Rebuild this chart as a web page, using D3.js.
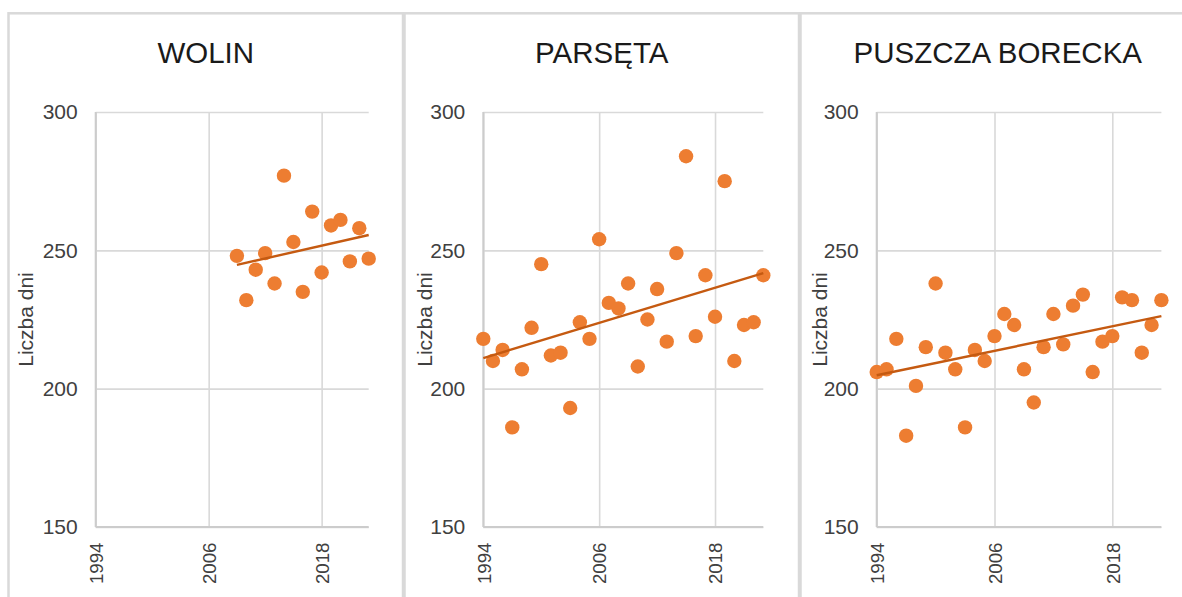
<!DOCTYPE html>
<html>
<head>
<meta charset="utf-8">
<script src="https://cdn.jsdelivr.net/npm/d3@7/dist/d3.min.js"></script>
<style>
  body { margin: 0; background: #fff; }
  svg { display: block; }
  text { font-family: "Liberation Sans", Arial, sans-serif; }
</style>
</head>
<body>
<svg id="chart" width="1182" height="597"></svg>
<script>
// ---- data ----
const titles = ["WOLIN", "PARSĘTA", "PUSZCZA BORECKA"];
const yAxisTitle = "Liczba dni";
const yearTicks = [1994, 2006, 2018];
const dayTicks = [150, 200, 250, 300];
const yearDomain = [1994, 2023];
const dayDomain = [150, 300];

const yearsFull = [1994, 1995, 1996, 1997, 1998, 1999, 2000, 2001, 2002, 2003,
                   2004, 2005, 2006, 2007, 2008, 2009, 2010, 2011, 2012, 2013,
                   2014, 2015, 2016, 2017, 2018, 2019, 2020, 2021, 2022, 2023];
const yearsWolin = [2009, 2010, 2011, 2012, 2013, 2014, 2015, 2016,
                    2017, 2018, 2019, 2020, 2021, 2022, 2023];

const wolinDays = [248, 232, 243, 249, 238, 277, 253, 235, 264, 242, 259, 261, 246, 258, 247];
const parsetaDays = [218, 210, 214, 186, 207, 222, 245, 212, 213, 193,
                     224, 218, 254, 231, 229, 238, 208, 225, 236, 217,
                     249, 284, 219, 241, 226, 275, 210, 223, 224, 241];
const boreckaDays = [206, 207, 218, 183, 201, 215, 238, 213, 207, 186,
                     214, 210, 219, 227, 223, 207, 195, 215, 227, 216,
                     230, 234, 206, 217, 219, 233, 232, 213, 223, 232];

const seriesYears = [yearsWolin, yearsFull, yearsFull];
const seriesDays = [wolinDays, parsetaDays, boreckaDays];

// ---- layout of the three chart boxes ----
const layout = [
  { boxL: 8.5,   boxR: 403,    plotL: 95.7,  plotR: 368.7,  yTitleX: 33.3 },
  { boxL: 404.5, boxR: 799,    plotL: 483.3, plotR: 763.3,  yTitleX: 431.7 },
  { boxL: 800.5, boxR: 1195,   plotL: 876.7, plotR: 1161.4, yTitleX: 826.7 }
];
const plotTop = 112, plotBottom = 527, boxTop = 13.3;

const svg = d3.select("#chart");
svg.append("rect").attr("width", 1182).attr("height", 597).attr("fill", "#fff");

// least-squares linear trend
function linearFit(xs, ys) {
  const mx = d3.mean(xs), my = d3.mean(ys);
  let sxy = 0, sxx = 0;
  xs.forEach((x, i) => { sxy += (x - mx) * (ys[i] - my); sxx += (x - mx) * (x - mx); });
  const b = sxy / sxx;
  return x => my + b * (x - mx);
}

layout.forEach((L, i) => {
  const g = svg.append("g");

  // chart box
  g.append("rect")
    .attr("x", L.boxL).attr("y", boxTop)
    .attr("width", L.boxR - L.boxL).attr("height", 640)
    .attr("fill", "#fff").attr("stroke", "#d9d9d9").attr("stroke-width", 2.5);

  // title
  g.append("text")
    .attr("x", (L.boxL + L.boxR) / 2).attr("y", 62.5)
    .attr("text-anchor", "middle")
    .attr("font-size", 29.5).attr("fill", "#1a1a1a")
    .text(titles[i]);

  const x = d3.scaleLinear().domain(yearDomain).range([L.plotL, L.plotR]);
  const y = d3.scaleLinear().domain(dayDomain).range([plotBottom, plotTop]);

  // y axis with horizontal gridlines
  const yAx = g.append("g")
    .attr("transform", `translate(${L.plotL},0)`)
    .call(d3.axisLeft(y).tickValues(dayTicks).tickSize(-(L.plotR - L.plotL)).tickPadding(18));
  yAx.select(".domain").remove();
  yAx.selectAll("line").attr("stroke", "#d9d9d9").attr("stroke-width", 1.6);
  yAx.selectAll("text").attr("font-size", 21).attr("fill", "#404040")
    .attr("font-family", "'Liberation Sans', Arial, sans-serif");

  // x axis with vertical gridlines
  const xAx = g.append("g")
    .attr("transform", `translate(0,${plotBottom})`)
    .call(d3.axisBottom(x).tickValues(yearTicks).tickSize(-(plotBottom - plotTop)).tickFormat(d3.format("d")));
  xAx.select(".domain").remove();
  xAx.selectAll("line").attr("stroke", "#d9d9d9").attr("stroke-width", 1.6);
  xAx.selectAll("text")
    .attr("transform", "rotate(-90)")
    .attr("text-anchor", "end")
    .attr("x", -15.5).attr("y", 0).attr("dy", "0.36em")
    .attr("font-size", 18.7).attr("fill", "#404040")
    .attr("font-family", "'Liberation Sans', Arial, sans-serif");

  // axis lines
  g.append("line")
    .attr("x1", L.plotL).attr("x2", L.plotL).attr("y1", plotTop).attr("y2", plotBottom)
    .attr("stroke", "#cccccc").attr("stroke-width", 2);
  g.append("line")
    .attr("x1", L.plotL).attr("x2", L.plotR).attr("y1", plotBottom).attr("y2", plotBottom)
    .attr("stroke", "#cccccc").attr("stroke-width", 2);

  // y axis title
  g.append("text")
    .attr("transform", `translate(${L.yTitleX},${(plotTop + plotBottom) / 2}) rotate(-90)`)
    .attr("text-anchor", "middle")
    .attr("font-size", 21).attr("fill", "#404040")
    .text(yAxisTitle);

  // points
  const yrs = seriesYears[i], vals = seriesDays[i];
  g.append("g").selectAll("circle")
    .data(vals)
    .join("circle")
    .attr("cx", (d, j) => x(yrs[j]))
    .attr("cy", d => y(d))
    .attr("r", 7.2)
    .attr("fill", "#ED7D31");

  // linear trend
  const fit = linearFit(yrs, vals);
  const ends = [d3.min(yrs), d3.max(yrs)];
  g.append("path")
    .attr("d", d3.line().x(d => x(d)).y(d => y(fit(d)))(ends))
    .attr("fill", "none")
    .attr("stroke", "#C55A11")
    .attr("stroke-width", 2.4);
});
</script>
</body>
</html>
